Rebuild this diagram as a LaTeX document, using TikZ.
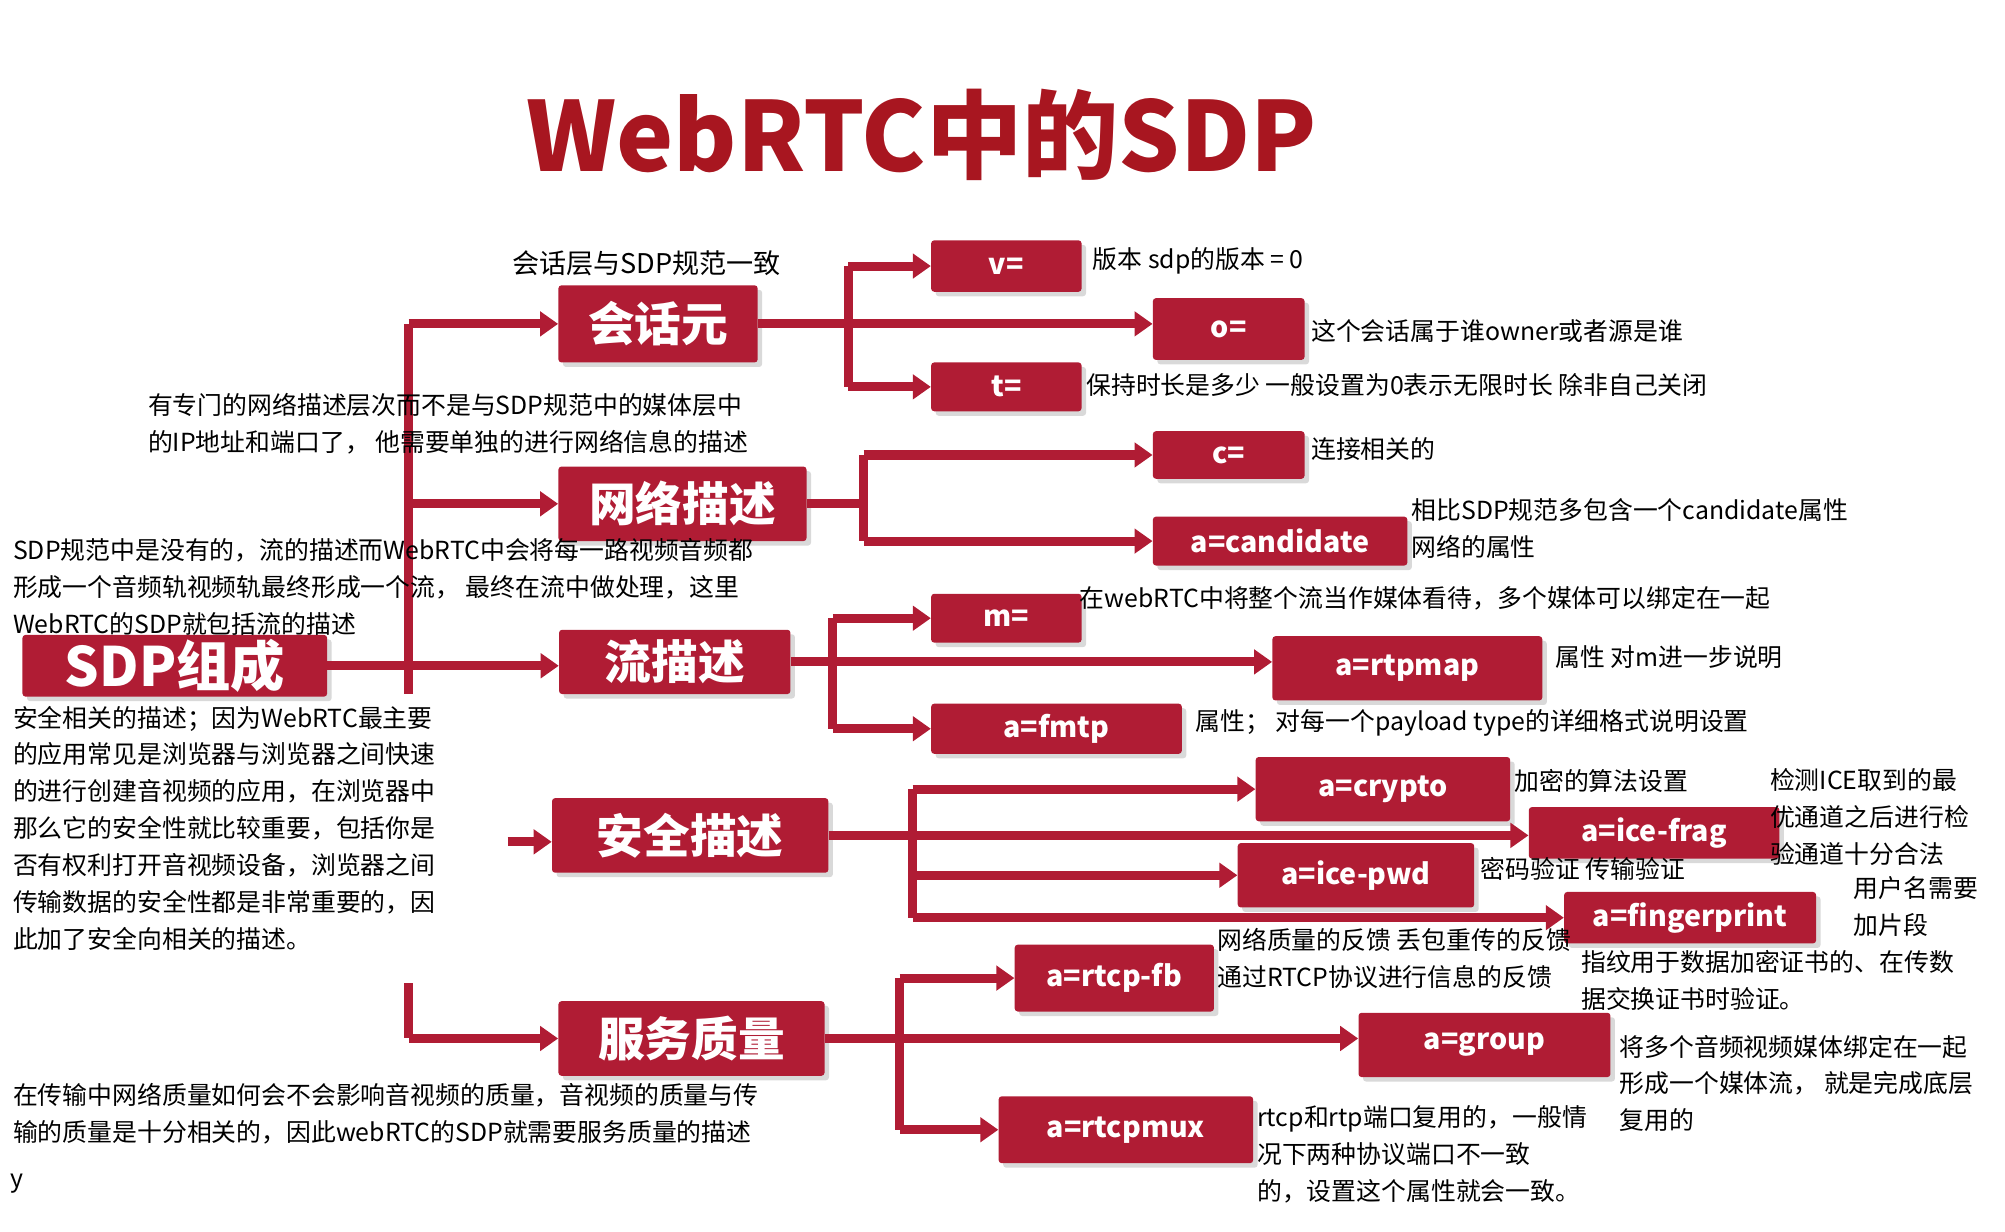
\documentclass[tikz,border=0pt]{standalone}
\usepackage{fontspec}
\setmainfont{Noto Sans CJK SC}
\usetikzlibrary{arrows.meta,shadows}
\definecolor{rd}{RGB}{176,28,52}
\definecolor{tr}{RGB}{168,22,32}
\begin{document}
\begin{tikzpicture}[x=0.03cm,y=-0.03cm,
 rbox/.style={fill=rd,text=white,font=\fontsize{19}{22}\selectfont\bfseries,inner sep=0pt,rounded corners=2pt,drop shadow={opacity=0.3,shadow xshift=3pt,shadow yshift=-3pt}},
 sz/.style 2 args={minimum width=#1*0.03cm,minimum height=#2*0.03cm},
 bbox/.style={rbox,font=\fontsize{31}{34}\selectfont\bfseries},
 ln/.style={draw=rd,line width=6pt},
 arr/.style={ln,-{Triangle[length=12pt,width=16pt]}},
 tx/.style={font=\fontsize{16.5}{24.5}\selectfont,anchor=north west,align=left,inner sep=0pt}]
\useasboundingbox (0,0) rectangle (1560,958);
\node[font=\fontsize{64}{70}\selectfont\bfseries,text=tr] (title) at (717,105) {WebRTC中的SDP};
% level 1
\node[bbox,sz={237}{48},font=\fontsize{36}{40}\selectfont\bfseries] (sdp) at (136,518) {SDP组成};
\node[bbox,sz={155}{60}] (s1) at (512,252) {会话元};
\node[bbox,sz={193}{58}] (s2) at (531,392) {网络描述};
\node[bbox,sz={180}{50}] (s3) at (525,515) {流描述};
\node[bbox,sz={215}{58}] (s4) at (537,650) {安全描述};
\node[bbox,sz={207}{58}] (s5) at (538,808) {服务质量};
% level 2
\node[rbox,sz={117}{40}] (v) at (783,207) {v=};
\node[rbox,sz={118}{48}] (o) at (956,256) {o=};
\node[rbox,sz={117}{38}] (t) at (783,301) {t=};
\node[rbox,sz={118}{37}] (c) at (956,354) {c=};
\node[rbox,sz={198}{38}] (cand) at (996,421) {a=candidate};
\node[rbox,sz={117}{38}] (m) at (783,481) {m=};
\node[rbox,sz={210}{50}] (rtpmap) at (1095,520) {a=rtpmap};
\node[rbox,sz={195}{39}] (fmtp) at (822,567) {a=fmtp};
\node[rbox,sz={198}{50}] (crypto) at (1076,614) {a=crypto};
\node[rbox,sz={195}{40}] (frag) at (1287,648) {a=ice-frag};
\node[rbox,sz={184}{50}] (pwd) at (1055,681) {a=ice-pwd};
\node[rbox,sz={196}{40}] (fp) at (1315,714) {a=fingerprint};
\node[rbox,sz={155}{52}] (fb) at (867,761) {a=rtcp-fb};
\node[rbox,sz={196}{50}] (grp) at (1155,813) {a=group};
\node[rbox,sz={198}{52}] (mux) at (876,879) {a=rtcpmux};
% main trunk
\coordinate (M) at (318,250);
\coordinate (Mb) at (318,540);
\coordinate (Mc) at (318,765);
\coordinate (Ms) at (395,655);
\draw[ln] (s1.west -| M) -- (Mb);
\draw[arr] (s1.west -| M) -- (s1.west);
\draw[arr] (s2.west -| M) -- (s2.west);
\draw[arr] (sdp.east) -- (sdp.east -| s3.west);
\draw[arr] (Ms) -- (Ms -| s4.west);
\draw[ln] (Mc) -- (s5.west -| M);
\draw[arr] (s5.west -| M) -- (s5.west);
% branches
\coordinate (J1) at (660,0); \coordinate (J2) at (672,0); \coordinate (J3) at (648,0);
\coordinate (J4) at (710,0); \coordinate (J5) at (700,0);
\draw[arr] (s1.east) -- (s1.east -| o.west);
\draw[ln] (v.west -| J1) -- (t.west -| J1);
\draw[arr] (v.west -| J1) -- (v.west);
\draw[arr] (t.west -| J1) -- (t.west);
\draw[ln] (s2.east) -- (s2.east -| J2);
\draw[ln] (c.west -| J2) -- (cand.west -| J2);
\draw[arr] (c.west -| J2) -- (c.west);
\draw[arr] (cand.west -| J2) -- (cand.west);
\draw[arr] (s3.east) -- (s3.east -| rtpmap.west);
\draw[ln] (m.west -| J3) -- (fmtp.west -| J3);
\draw[arr] (m.west -| J3) -- (m.west);
\draw[arr] (fmtp.west -| J3) -- (fmtp.west);
\draw[arr] (s4.east) -- (s4.east -| frag.west);
\draw[ln] (crypto.west -| J4) -- (fp.west -| J4);
\draw[arr] (crypto.west -| J4) -- (crypto.west);
\draw[arr] (pwd.west -| J4) -- (pwd.west);
\draw[arr] (fp.west -| J4) -- (fp.west);
\draw[arr] (s5.east) -- (s5.east -| grp.west);
\draw[ln] (fb.west -| J5) -- (mux.west -| J5);
\draw[arr] (fb.west -| J5) -- (fb.west);
\draw[arr] (mux.west -| J5) -- (mux.west);
% texts
\node[font=\fontsize{18}{22}\selectfont] (t0) at (503,205) {会话层与SDP规范一致};
\node[tx] (t1) at (850,192) {版本 sdp的版本 = 0};
\node[tx] (t2) at (1020,248) {这个会话属于谁owner或者源是谁};
\node[tx] (t3) at (845,290) {保持时长是多少 一般设置为0表示无限时长 除非自己关闭};
\node[tx] (t4) at (115,306) {有专门的网络描述层次而不是与SDP规范中的媒体层中\\的IP地址和端口了， 他需要单独的进行网络信息的描述};
\node[tx] (t5) at (1020,340) {连接相关的};
\node[tx] (t6) at (1098,388) {相比SDP规范多包含一个candidate属性\\网络的属性};
\node[tx] (t7) at (10,419) {SDP规范中是没有的，流的描述而WebRTC中会将每一路视频音频都\\形成一个音频轨视频轨最终形成一个流， 最终在流中做处理，这里\\WebRTC的SDP就包括流的描述};
\node[tx] (t8) at (840,456) {在webRTC中将整个流当作媒体看待，多个媒体可以绑定在一起};
\node[tx] (t9) at (1210,502) {属性 对m进一步说明};
\node[tx] (t10) at (930,552) {属性； 对每一个payload type的详细格式说明设置};
\node[tx] (t11) at (10,549) {安全相关的描述；因为WebRTC最主要\\的应用常见是浏览器与浏览器之间快速\\的进行创建音视频的应用，在浏览器中\\那么它的安全性就比较重要，包括你是\\否有权利打开音视频设备，浏览器之间\\传输数据的安全性都是非常重要的，因\\此加了安全向相关的描述。};
\node[tx] (t12) at (1178,598) {加密的算法设置};
\node[tx] (t13) at (1377,598) {检测ICE取到的最\\优通道之后进行检\\验通道十分合法};
\node[tx] (t14) at (1152,667) {密码验证 传输验证};
\node[tx] (t15) at (1442,682) {用户名需要\\加片段};
\node[tx] (t16) at (947,722) {网络质量的反馈 丢包重传的反馈\\通过RTCP协议进行信息的反馈};
\node[tx] (t17) at (1230,739) {指纹用于数据加密证书的、在传数\\据交换证书时验证。};
\node[tx] (t18) at (1260,805) {将多个音频视频媒体绑定在一起\\形成一个媒体流， 就是完成底层\\复用的};
\node[tx] (t19) at (978,860) {rtcp和rtp端口复用的，一般情\\况下两种协议端口不一致\\的，设置这个属性就会一致。};
\node[tx] (t20) at (10,843) {在传输中网络质量如何会不会影响音视频的质量，音视频的质量与传\\输的质量是十分相关的，因此webRTC的SDP就需要服务质量的描述};
\node[tx] (t21) at (8,913) {y};
\end{tikzpicture}
\end{document}
